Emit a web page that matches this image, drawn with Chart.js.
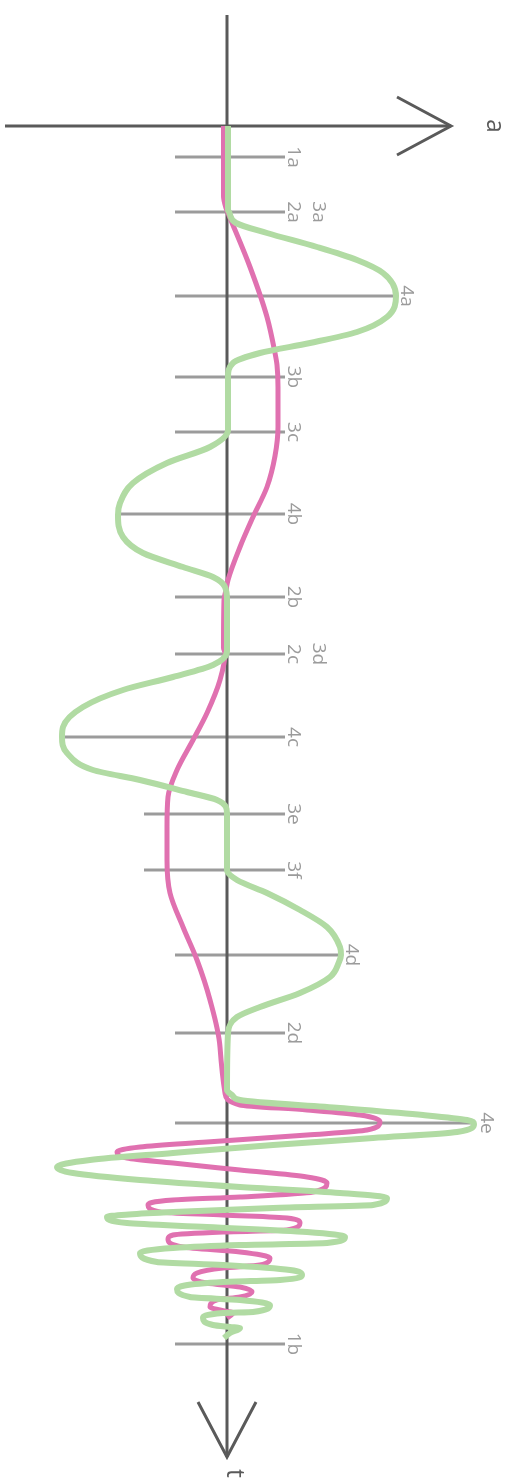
<!DOCTYPE html>
<html>
<head>
<meta charset="utf-8">
<script src="https://cdn.jsdelivr.net/npm/chart.js@4/dist/chart.umd.min.js"></script>
<style>
  html, body { margin: 0; padding: 0; background: #fff; }
  #wrap { width: 513px; height: 1484px; position: relative; }
</style>
</head>
<body>
<div id="wrap"><canvas id="motion"></canvas></div>
<script>
// time marks along the t axis
const tickLabels = ["1a", "2a", "4a", "3b", "3c", "4b", "2b", "2c", "4c", "3e", "3f", "4d", "2d", "4e", "1b"];
const tickTimes = [3.1, 8.6, 17.0, 25.1, 30.6, 38.8, 47.1, 52.8, 61.1, 68.8, 74.4, 82.9, 90.7, 99.7, 121.8];
const tickFrom = [-5.2, -5.2, -5.2, -5.2, -5.2, -10.7, -5.2, -5.2, -16.5, -8.3, -8.3, -5.2, -5.2, -5.2, -5.2];
const tickTo = [5.8, 5.8, 16.6, 5.8, 5.8, 5.8, 5.8, 5.8, 5.8, 5.8, 5.8, 11.1, 5.8, 24.6, 5.8];

// second label sharing a mark
const extraLabels = ["3a", "3d"];
const extraOn = ["2a", "2c"];

// acceleration (green)
const accelT = [0, 8.4, 8.6, 9.7, 10.7, 12.1, 13.4, 14.7, 17.0, 19.1, 20.6, 21.7, 22.7, 23.7, 25.1,
  30.4, 32.1, 33.7, 35.7, 37.7, 38.9, 41.1, 42.7, 44.1, 45.1, 46.1, 47.4,
  52.5, 53.9, 55.1, 56.4, 58.1, 60.1, 61.1, 62.7, 64.4, 65.4, 66.6, 67.4, 68.7,
  74.4, 75.4, 76.7, 78.4, 80.1, 82.1, 82.9, 83.6, 85.1, 86.7, 88.1, 89.1, 90.7,
  96.4, 97.0, 97.4, 98.2, 98.9, 99.4, 99.8, 100.6, 101.2, 101.9, 102.7, 103.4, 104.1,
  104.7, 105.4, 106.1, 106.7, 107.2, 107.9, 108.2, 108.6, 109.1,
  109.7, 110.1, 110.6, 111.1, 111.7, 111.9, 112.2, 112.7,
  113.6, 113.9, 114.4, 114.9, 115.4, 115.6, 116.3,
  117.1, 117.4, 117.9, 118.6, 118.7, 119.2, 119.9, 120.1, 120.2, 120.7, 121.2];
const accelA = [0.1, 0.1, 0.2, 0.9, 4.0, 9.0, 13.0, 15.6, 16.9, 16.0, 13.0, 8.3, 3.3, 0.6, 0.1,
  0.1, -1.7, -6.0, -9.4, -10.7, -10.9, -10.4, -8.4, -4.4, -1.4, -0.2, 0.0,
  0.0, -1.4, -5.4, -10.4, -14.4, -16.4, -16.5, -16.0, -13.4, -8.7, -4.0, -1.0, 0.0,
  0.0, 1.0, 4.0, 7.3, 10.0, 11.3, 11.4, 11.2, 10.3, 7.3, 3.3, 1.0, 0.1,
  0.0, 0.6, 1.3, 11.3, 19.6, 24.0, 24.7, 23.0, 14.6, 4.6, -5.4, -13.7, -17.0,
  -15.4, -8.7, 1.3, 11.3, 16.0, 14.6, 4.6, -5.4, -12.0,
  -10.0, -2.0, 8.0, 11.8, 10.0, 1.3, -5.4, -8.7,
  -7.0, -0.4, 6.3, 7.5, 5.3, -0.4, -5.0,
  -3.7, 1.3, 4.3, 2.6, -0.4, -2.4, -1.4, 0.3, 1.3, 0.3, -0.3];

// velocity (pink)
const velT = [0, 7.0, 8.2, 8.7, 14.1, 19.1, 22.7, 23.9, 26.1, 30.1, 33.0, 36.1, 39.1, 42.1, 45.4, 46.4, 47.4,
  52.2, 52.7, 55.4, 58.7, 61.4, 64.4, 67.1, 70.1, 73.4, 76.7, 80.1, 83.4, 87.4, 92.1, 96.7,
  97.9, 98.4, 98.9, 99.6, 100.4, 100.9, 101.6, 102.1, 102.6,
  103.2, 103.7, 104.4, 105.1, 105.7, 106.6, 107.1, 107.4, 107.9,
  108.6, 108.9, 109.2, 109.7, 110.4, 110.6, 110.9, 111.3,
  112.1, 112.6, 113.2, 113.9, 114.2, 114.7, 115.2,
  115.7, 116.1, 116.6, 117.1, 117.4, 118.1, 118.4, 118.7, 119.2];
const velA = [-0.35, -0.35, -0.1, 0.1, 2.3, 4.0, 4.8, 5.0, 5.1, 5.1, 4.8, 4.0, 2.6, 1.3, 0.1, -0.1, -0.3,
  -0.35, -0.2, -0.7, -2.0, -3.4, -5.0, -5.9, -6.0, -6.0, -5.7, -4.4, -3.0, -1.7, -0.7, -0.2,
  1.3, 8.0, 13.3, 15.3, 14.0, 8.0, -2.0, -8.7, -11.0,
  -10.0, -5.4, 1.3, 8.0, 10.0, 8.6, 1.3, -5.4, -7.9,
  -6.7, -0.4, 6.0, 7.3, 6.0, -0.4, -5.4, -5.9,
  -4.4, 1.3, 4.3, 3.3, -0.4, -3.0, -3.4,
  -2.0, 1.3, 2.5, 1.3, -1.0, -1.7, -0.7, 0.6, 0.0];

const toPoints = (ts, as) => ts.map((t, i) => ({ x: as[i], y: t }));

function line(ctx, x1, y1, x2, y2) {
  ctx.beginPath();
  ctx.moveTo(x1, y1);
  ctx.lineTo(x2, y2);
  ctx.stroke();
}

// text turned a quarter clockwise, baseline at (x, y)
function sideText(ctx, text, x, y, align) {
  ctx.save();
  ctx.translate(x, y);
  ctx.rotate(Math.PI / 2);
  ctx.textAlign = align;
  ctx.textBaseline = "alphabetic";
  ctx.fillText(text, 0, 0);
  ctx.restore();
}

const guides = {
  id: "guides",
  beforeDatasetsDraw(chart) {
    const { ctx, scales } = chart;
    const px = (a) => scales.x.getPixelForValue(a);
    const py = (t) => scales.y.getPixelForValue(t);
    ctx.save();

    // tick marks
    ctx.strokeStyle = "#9b9b9b";
    ctx.lineWidth = 3;
    tickTimes.forEach((t, i) => line(ctx, px(tickFrom[i]), py(t), px(tickTo[i]), py(t)));

    // axes with open arrow heads
    ctx.strokeStyle = "#5a5a5a";
    ctx.lineWidth = 3;
    ctx.lineJoin = "miter";
    line(ctx, px(-22.2), py(0), px(22.4), py(0));
    ctx.beginPath();
    ctx.moveTo(px(17.0), py(-2.9));
    ctx.lineTo(px(22.4), py(0));
    ctx.lineTo(px(17.0), py(2.9));
    ctx.stroke();
    line(ctx, px(0), py(-11.1), px(0), py(133.1));
    ctx.beginPath();
    ctx.moveTo(px(-2.9), py(127.6));
    ctx.lineTo(px(0), py(133.1));
    ctx.lineTo(px(2.9), py(127.6));
    ctx.stroke();

    // tick labels
    ctx.fillStyle = "#9b9b9b";
    ctx.font = "19px 'Open Sans'";
    tickTimes.forEach((t, i) => {
      const gap = tickTo[i] > 6 ? 8 : 3;
      sideText(ctx, tickLabels[i], px(tickTo[i]) + gap, py(t), "center");
    });
    extraLabels.forEach((lab, i) => {
      const k = tickLabels.indexOf(extraOn[i]);
      sideText(ctx, lab, px(tickTo[k]) + 28, py(tickTimes[k]), "center");
    });

    // axis names
    ctx.fillStyle = "#5a5a5a";
    ctx.font = "25px 'Open Sans'";
    sideText(ctx, "a", px(26.0), py(0), "center");
    sideText(ctx, "t", px(0), py(134.3), "left");

    ctx.restore();
  }
};

new Chart(document.getElementById("motion"), {
  type: "scatter",
  data: {
    datasets: [
      {
        label: "a",
        data: toPoints(accelT, accelA),
        showLine: true,
        borderColor: "#b1dba3",
        borderWidth: 6,
        pointRadius: 0,
        cubicInterpolationMode: "monotone",
        order: 0,
      },
      {
        label: "v",
        data: toPoints(velT, velA),
        showLine: true,
        borderColor: "#e071b0",
        borderWidth: 5,
        pointRadius: 0,
        cubicInterpolationMode: "monotone",
        order: 1,
      },
    ],
  },
  options: {
    indexAxis: "y",
    responsive: true,
    maintainAspectRatio: false,
    animation: false,
    layout: { padding: 0 },
    plugins: {
      legend: { display: false },
      tooltip: { enabled: false },
    },
    scales: {
      x: { type: "linear", min: -22.7, max: 28.6, display: false },
      y: { type: "linear", min: -12.6, max: 135.8, reverse: true, display: false },
    },
  },
  plugins: [guides],
});
</script>
</body>
</html>
